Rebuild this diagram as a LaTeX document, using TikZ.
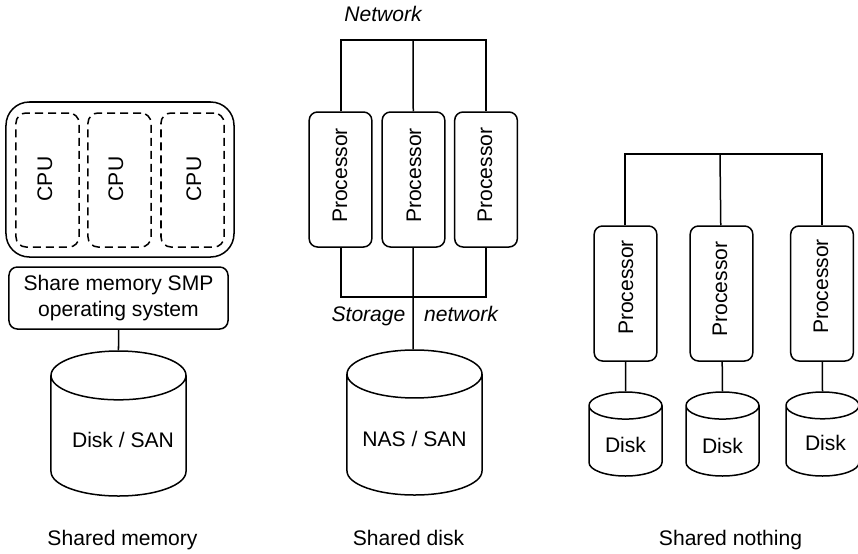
\documentclass[tikz,border=0pt]{standalone}
\usepackage{fontspec}
\setmainfont{Liberation Sans}
\usetikzlibrary{shapes.geometric}
\newcommand{\Dlabel}[2]{\raisebox{-#1}[\height][\depth]{#2}}
\tikzset{
  box/.style={draw=black,line width=0.45mm,rounded corners=2.5mm,inner sep=0pt},
  cpubox/.style={box,dashed,dash pattern=on 2.4mm off 1.5mm,rounded corners=3mm,minimum width=1.89cm,minimum height=4.02cm},
  procbox/.style={box,minimum width=1.88cm,minimum height=4.05cm},
  disk/.style={draw=black,line width=0.45mm,shape=cylinder,shape border rotate=90,inner sep=0pt,lbl,anchor=shape center},
  bigdisk/.style={disk,minimum width=4.05cm,minimum height=4.35cm},
  smalldisk/.style={disk,minimum width=2.19cm,minimum height=2.52cm},
  wire/.style={line width=0.45mm},
  lbl/.style={font=\fontsize{18}{22}\selectfont,inner sep=0pt,align=center},
  lblit/.style={font=\fontsize{18}{22}\selectfont\itshape,inner sep=0pt,anchor=base},
  upright/.style={lbl,rotate=90,anchor=base},
}
\begin{document}
\begin{tikzpicture}[x=0.03cm,y=-0.03cm]
\useasboundingbox (0,0) rectangle (858,553);
% shared memory
\node (node) [box,rounded corners=7mm,minimum width=6.84cm,minimum height=4.65cm] at (120,179.5) {};
\node (cpu1) [cpubox] at (47.5,180) {};
\node (cpu2) [cpubox] at (119.5,180) {};
\node (cpu3) [cpubox] at (192.5,180) {};
\node [upright] at (52,179) {CPU};
\node [upright] at (123,179) {CPU};
\node [upright] at (201,179) {CPU};
\node (os) [box,lbl,draw=black,minimum width=6.57cm,minimum height=1.86cm] at (118.5,298) {Share memory SMP\\operating system};
\node (disk1) [bigdisk,shape aspect=0.44] at (118.5,423.5) {\Dlabel{1.2mm}{\hspace*{2.7mm}Disk / SAN}};
\path[wire] (os) edge (disk1.north);
\node [lbl,anchor=base] at (122.5,545) {Shared memory};
% shared disk
\node (net) [lblit] at (383,21) {Network};
\coordinate (top1) at (341,40);
\coordinate (top2) at (413,40);
\coordinate (top3) at (486,40);
\node (p1) [procbox] at (340.5,179.5) {};
\node (p2) [procbox] at (413.5,179.5) {};
\node (p3) [procbox] at (486,179.5) {};
\node [upright] at (347,175.5) {Processor};
\node [upright] at (421,175.5) {Processor};
\node [upright] at (492,175) {Processor};
\node (disk2) [bigdisk,shape aspect=0.46] at (414.5,422.5) {\Dlabel{1.2mm}{NAS / SAN}};
\coordinate (bot1) at (341,297);
\coordinate (bot2) at (413,297);
\coordinate (bot3) at (486,297);
\draw[wire] (p1.north -| top1) -- (top1) -- (top3) -- (p3.north -| top3);
\path[wire] (top2) edge (p2);
\draw[wire] (p1.south -| bot1) -- (bot1) -- (bot3) -- (p3.south -| bot3);
\draw[wire] (p2) -- (bot2) -- (disk2.north -| bot2);
\node [lblit] at (368.5,321) {Storage};
\node [lblit] at (461,321) {network};
\node [lbl,anchor=base] at (408.5,545) {Shared disk};
% shared nothing
\coordinate (top4) at (625,154);
\coordinate (top5) at (720,154);
\coordinate (top6) at (822,154);
\node (p4) [procbox] at (625.5,293.5) {};
\node (p5) [procbox] at (721.5,293.5) {};
\node (p6) [procbox] at (822,293.5) {};
\node [upright] at (633,287.5) {Processor};
\node [upright] at (727,289) {Processor};
\node [upright] at (828,286.5) {Processor};
\node (disk3) [smalldisk,shape aspect=0.66] at (625.5,434) {\Dlabel{1.2mm}{Disk}};
\node (disk4) [smalldisk,shape aspect=0.66] at (722.5,434) {\Dlabel{1.5mm}{Disk}};
\node (disk5) [smalldisk,shape aspect=0.57] at (822.5,434) {\Dlabel{0.6mm}{\hspace*{1.8mm}Disk}};
\draw[wire] (p4.north -| top4) -- (top4) -- (top6) -- (p6.north -| top6);
\path[wire] (top5) edge (p5);
\path[wire] (p4) edge (disk3.north);
\path[wire] (p5) edge (disk4.north);
\path[wire] (p6) edge (disk5.north);
\node [lbl,anchor=base] at (730.5,545) {Shared nothing};
\end{tikzpicture}
\end{document}
